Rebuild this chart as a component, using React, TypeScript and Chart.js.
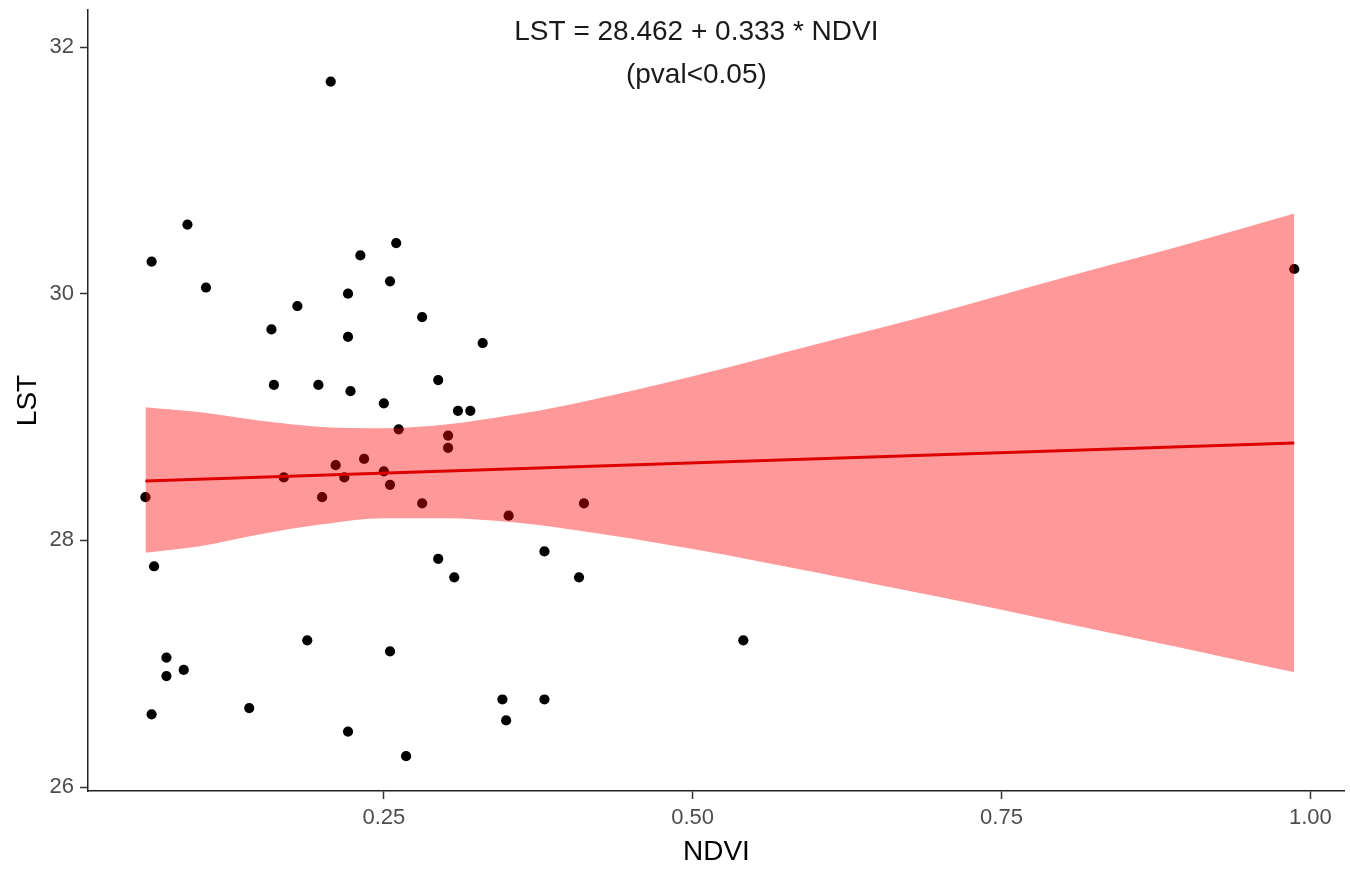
import React, { useEffect, useRef } from "react";
import { Chart, registerables } from "chart.js";

Chart.register(...registerables);

// Observations (NDVI, LST)
const ndvi = [
  0.207, 0.091, 0.062, 0.106, 0.26, 0.231, 0.255, 0.221, 0.18, 0.159,
  0.281, 0.221, 0.33, 0.161, 0.197, 0.223, 0.25, 0.294, 0.31, 0.32,
  0.262, 0.302, 0.302, 0.234, 0.211, 0.169, 0.218, 0.25, 0.255, 0.057,
  0.2, 0.281, 0.351, 0.412, 0.987, 0.064, 0.294, 0.307, 0.38, 0.408,
  0.188, 0.255, 0.541, 0.074, 0.088, 0.074, 0.062, 0.141, 0.346, 0.38,
  0.349, 0.221, 0.268,
];
const lst = [
  31.72, 30.56, 30.26, 30.05, 30.41, 30.31, 30.1, 30.0, 29.9, 29.71,
  29.81, 29.65, 29.6, 29.26, 29.26, 29.21, 29.11, 29.3, 29.05, 29.05,
  28.9, 28.85, 28.75, 28.66, 28.61, 28.51, 28.51, 28.56, 28.45, 28.35,
  28.35, 28.3, 28.2, 28.3, 30.2, 27.79, 27.85, 27.7, 27.91, 27.7,
  27.19, 27.1, 27.19, 27.05, 26.95, 26.9, 26.59, 26.64, 26.71, 26.71,
  26.54, 26.45, 26.25,
];

// Confidence band
const bandX = [0.057, 0.1, 0.15, 0.2, 0.25, 0.3, 0.35, 0.4, 0.5, 0.6, 0.7, 0.8, 0.9, 0.987];
const bandUpper = [29.08, 29.04, 28.97, 28.92, 28.91, 28.94, 29.01, 29.1, 29.33, 29.59, 29.85, 30.13, 30.4, 30.65];
const bandLower = [27.9, 27.95, 28.05, 28.13, 28.18, 28.18, 28.15, 28.09, 27.93, 27.74, 27.54, 27.33, 27.12, 26.93];

// Fitted line
const fitX = [0.057, 0.987];
const fitY = [28.481, 28.79];

// Axes
const xTicks = [0.25, 0.5, 0.75, 1.0];
const xTickLabels = ["0.25", "0.50", "0.75", "1.00"];
const yTicks = [26, 28, 30, 32];
const yTickLabels = ["26", "28", "30", "32"];

// Annotation
const annotationLines = ["LST = 28.462 + 0.333 * NDVI", "(pval<0.05)"];
const annotationX = 0.503;
const annotationY = [32.12, 31.77];

const FAMILY = "'Liberation Sans', Arial, sans-serif";

const annotationPlugin = {
  id: "annot",
  afterDatasetsDraw(chart: any) {
    const { ctx, scales } = chart;
    const x = scales.x;
    const y = scales.y;
    ctx.save();
    ctx.font = `28px ${FAMILY}`;
    ctx.fillStyle = "#1a1a1a";
    ctx.textAlign = "center";
    ctx.textBaseline = "middle";
    annotationLines.forEach((t, i) => {
      ctx.fillText(t, x.getPixelForValue(annotationX), y.getPixelForValue(annotationY[i]));
    });
    ctx.restore();
  },
};

export default function App() {
  const ref = useRef<HTMLCanvasElement | null>(null);

  useEffect(() => {
    if (!ref.current) return;
    const chart = new Chart(ref.current, {
      type: "scatter",
      data: {
        datasets: [
          {
            label: "points",
            data: ndvi.map((x, i) => ({ x, y: lst[i] })),
            backgroundColor: "#000",
            borderColor: "#000",
            borderWidth: 0,
            pointRadius: 5.1,
            order: 3,
          },
          {
            label: "upper",
            data: bandX.map((x, i) => ({ x, y: bandUpper[i] })),
            showLine: true,
            pointRadius: 0,
            borderWidth: 0,
            borderColor: "rgba(0,0,0,0)",
            backgroundColor: "rgba(255,0,0,0.4)",
            fill: "+1",
            cubicInterpolationMode: "monotone",
            order: 2,
          },
          {
            label: "lower",
            data: bandX.map((x, i) => ({ x, y: bandLower[i] })),
            showLine: true,
            pointRadius: 0,
            borderWidth: 0,
            borderColor: "rgba(0,0,0,0)",
            backgroundColor: "rgba(0,0,0,0)",
            fill: false,
            cubicInterpolationMode: "monotone",
            order: 2,
          },
          {
            label: "fit",
            data: fitX.map((x, i) => ({ x, y: fitY[i] })),
            showLine: true,
            pointRadius: 0,
            borderColor: "rgb(222,0,0)",
            borderWidth: 3,
            fill: false,
            order: 1,
          },
        ] as any,
      },
      options: {
        animation: false,
        responsive: false,
        maintainAspectRatio: false,
        layout: { padding: { top: 10, right: 5, left: 0, bottom: 0 } },
        plugins: {
          legend: { display: false },
          tooltip: { enabled: false },
          title: { display: false },
        },
        scales: {
          x: {
            type: "linear",
            min: 0.0105,
            max: 1.028,
            afterBuildTicks: (s: any) => {
              s.ticks = xTicks.map((v) => ({ value: v }));
            },
            afterFit: (s: any) => {
              s.height = 78;
              s.paddingLeft = 0;
              s.paddingRight = 0;
            },
            ticks: {
              callback: (_v: any, i: number) => xTickLabels[i],
              font: { size: 22, family: FAMILY },
              color: "#4D4D4D",
              padding: 6,
              maxRotation: 0,
              autoSkip: false,
            },
            grid: {
              display: true,
              drawOnChartArea: false,
              drawTicks: true,
              tickLength: 8,
              tickColor: "#333",
              tickWidth: 1.5,
            },
            border: { display: true, color: "#222", width: 1.5 },
            title: {
              display: true,
              text: "NDVI",
              color: "#000",
              font: { size: 28, family: FAMILY },
              padding: { top: 0, bottom: 0 },
            },
          },
          y: {
            type: "linear",
            min: 25.968,
            max: 32.3,
            afterBuildTicks: (s: any) => {
              s.ticks = yTicks.map((v) => ({ value: v }));
            },
            afterFit: (s: any) => {
              s.width = 88;
              s.paddingTop = 0;
              s.paddingBottom = 0;
            },
            ticks: {
              callback: (_v: any, i: number) => yTickLabels[i],
              font: { size: 22, family: FAMILY },
              color: "#4D4D4D",
              padding: 6,
              autoSkip: false,
            },
            grid: {
              display: true,
              drawOnChartArea: false,
              drawTicks: true,
              tickLength: 8,
              tickColor: "#333",
              tickWidth: 1.5,
            },
            border: { display: true, color: "#222", width: 1.5 },
            title: {
              display: true,
              text: "LST",
              color: "#000",
              font: { size: 28, family: FAMILY },
              padding: { top: 11, bottom: 0 },
            },
          },
        },
      } as any,
      plugins: [annotationPlugin],
    });
    return () => chart.destroy();
  }, []);

  return (
    <div style={{ position: "absolute", left: 0, top: 0, width: 1350, height: 869, background: "#fff" }}>
      <canvas ref={ref} width={1350} height={869} style={{ display: "block" }} />
    </div>
  );
}
